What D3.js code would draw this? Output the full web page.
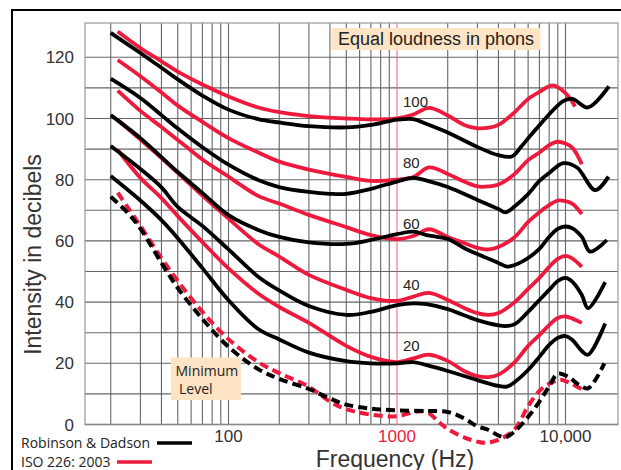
<!DOCTYPE html>
<html>
<head>
<meta charset="utf-8">
<script src="https://cdn.jsdelivr.net/npm/d3@7"></script>
<style>
  html, body { margin: 0; padding: 0; background: #fff; }
  svg { display: block; }
</style>
</head>
<body>
<svg id="chart" width="621" height="470"></svg>
<script>
// Equal-loudness contours: Robinson & Dadson (black) vs ISO 226:2003 (red).
// Each contour is a list of [frequency in Hz, sound level in dB].

const phonLevels = [100, 80, 60, 40, 20];

const rd100 = [[20,128],[30,121.4],[40,116.6],[50,112.8],[70,107.5],[100,102.9],[150,99.8],[200,98.7],[300,97.5],[500,97.1],[700,97.9],[1000,99.6],[1250,99.8],[1500,98.2],[2000,95.4],[3000,90.7],[4000,88],[4800,87.6],[5500,91],[6600,96.2],[9700,105.7],[11000,106.4],[13600,103.6],[18100,110.5]];
const rd80 = [[20,113],[30,106.7],[40,101.1],[50,96.7],[70,90.6],[100,84.9],[150,79.9],[200,77.6],[300,76],[400,75.4],[500,75.4],[700,77],[1000,79.4],[1250,80.6],[1500,79.7],[2000,77.6],[3000,73.4],[4000,70.4],[4400,69.3],[5000,71.3],[6000,75.3],[7000,79.6],[8000,82.2],[9700,85.4],[11700,84],[15000,76.6],[18000,81]];
const rd60 = [[20,101.1],[30,93.6],[40,87.4],[50,82.5],[70,75.7],[100,68.4],[150,63.6],[200,61.3],[300,59.5],[500,59],[700,60.3],[1000,62.2],[1250,63],[1500,61.9],[2000,60.6],[2500,57.7],[3000,55.7],[4000,52.8],[4500,51.6],[5000,52.1],[6000,54.4],[7000,57.4],[8000,61.3],[9000,63.9],[10000,64.7],[11000,64.1],[12500,61.3],[14000,56.5],[17600,60.3]];
const rd40 = [[20,91],[30,83.5],[40,77.5],[50,71.1],[70,64.9],[100,57.2],[150,48.3],[200,43.8],[300,38.7],[500,35.8],[700,36.8],[1000,39],[1250,39.6],[1500,39.3],[2000,37.7],[3000,34.1],[4000,32.4],[4500,32.2],[5000,32.8],[6000,36.8],[7000,40.7],[8000,44],[9000,46.9],[10000,47.9],[11000,46.6],[12500,42.3],[13600,38],[17200,46.5]];
const rd20 = [[20,81.2],[30,73.2],[40,66.8],[50,60.9],[70,51.1],[100,40.6],[150,31.2],[200,27.8],[300,23.5],[500,20.7],[700,20],[1000,20],[1250,20.4],[1500,19.4],[2000,17.5],[3000,14.5],[4000,12.6],[4500,12.4],[5000,13.9],[6000,17.8],[7000,22.1],[8000,26],[9000,28.3],[10000,28.9],[11000,27.6],[12500,24],[13600,22.8],[17200,33]];
const rdThreshold = [[20,74.4],[25,69.4],[30,64],[40,52.8],[50,44.6],[70,34.5],[100,25.4],[150,18.1],[200,14.9],[300,11.6],[400,8.5],[500,6.5],[700,5.2],[1000,4.6],[1500,4.4],[2000,4.1],[2500,2],[3000,-0.6],[3500,-1.8],[4000,-3.6],[4400,-4.2],[5000,-2.2],[6000,2.5],[7000,7.5],[8000,12.5],[9000,16.6],[10400,15.6],[12000,13],[13600,11.8],[17000,20]];

const iso100 = [[22,128.4],[30,123],[40,118.7],[50,115.3],[70,111.1],[100,107.2],[150,103.6],[200,102.1],[300,100.8],[500,100],[700,99.7],[1000,100],[1250,101.3],[1550,103.5],[2000,101],[2500,97.9],[3000,96.8],[3500,97],[4000,97.9],[5000,102.1],[6000,106.4],[7000,108.7],[8400,110.8],[10000,108.3],[11400,103.9]];
const iso80 = [[22,119.1],[30,113.8],[40,108.5],[50,104.2],[70,98.9],[100,93.6],[150,88.9],[200,85.9],[300,83.3],[500,80.9],[700,79.6],[1000,80],[1250,80.9],[1550,84],[2000,81.9],[2500,79.4],[3000,77.8],[3500,77.8],[4000,78.4],[5000,81.9],[6000,86.4],[7000,88.9],[8000,91.3],[9000,92.4],[10000,91.8],[11000,90.4],[12500,85.1]];
const iso60 = [[22,109.1],[30,102.5],[40,97.2],[50,93],[70,86.6],[100,81],[150,74.7],[200,72.2],[300,68.5],[500,64.5],[700,61.9],[1000,60.6],[1250,61.6],[1550,63.8],[2000,61.3],[2500,59.3],[3000,57.7],[3500,57.2],[4000,58],[5000,61.3],[6000,66.2],[7000,69.4],[8000,71.7],[9000,73.2],[10000,73],[11000,72.1],[12500,68.8]];
const iso40 = [[22,99.5],[30,93.1],[40,87.1],[50,82.2],[70,74.8],[100,67.3],[150,59],[200,54.9],[300,48.9],[500,44],[700,41.3],[1000,40.4],[1250,41.8],[1550,43],[2000,40.7],[2500,38.1],[3000,36.4],[3500,35.8],[4000,36.4],[5000,40],[6000,44.3],[7000,47.9],[8000,51.5],[9000,54.1],[10000,55.1],[11000,54.2],[12500,51.5]];
const iso20 = [[22,89.7],[30,80.6],[40,74],[50,68.1],[70,59.6],[100,51],[150,42.8],[200,38.4],[300,33.2],[500,25.7],[700,22.1],[1000,20.4],[1250,21.6],[1550,22.8],[2000,20.8],[2500,17.5],[3000,15.8],[3500,15.5],[4000,16.3],[5000,20.4],[6000,25.7],[7000,29.2],[8000,32.5],[9000,34.8],[10000,35.3],[11000,34.6],[12500,33.2]];
const isoThreshold = [[22,75.8],[25,71.3],[30,64.9],[40,54.4],[50,46.9],[70,36.8],[100,27.9],[150,20.4],[200,16.8],[300,12.3],[400,7.5],[500,5],[700,3.2],[1000,2.7],[1300,4.2],[1500,4.1],[1800,0.5],[2000,-1.5],[2500,-4.2],[3000,-5.6],[3300,-6],[4000,-5],[5000,-1.5],[6000,6],[7000,11],[8000,13.3],[9300,14.6],[10000,14.2],[11000,13.2],[12500,11.5]];

const rdContours = [rd100, rd80, rd60, rd40, rd20];
const isoContours = [iso100, iso80, iso60, iso40, iso20];

const yTicks = [0, 20, 40, 60, 80, 100, 120];
const yGrid = [10, 20, 30, 40, 50, 60, 70, 80, 90, 100, 110, 120];
const xTickValues = [100, 1000, 10000];
const xTickLabels = ["100", "1000", "10,000"];
const xGrid = [20,30,40,50,60,70,80,90,100,200,300,400,500,600,700,800,900,2000,3000,4000,5000,6000,7000,8000,9000,10000];

const legendNames = ["Robinson & Dadson", "ISO 226: 2003"];

// ---- drawing ----
const RED = "#ed1a3d";
const svg = d3.select("#chart");

const x = d3.scaleLog().domain([100, 10000]).range([228.5, 565.5]);
const y = d3.scaleLinear().domain([0, 120]).range([424.5, 57.3]);

const plotLeft = 85, plotRight = 618, plotTop = 23, plotBottom = 424.5;

// outer frame
svg.append("rect")
  .attr("x", 12).attr("y", 10).attr("width", 700).attr("height", 520)
  .attr("fill", "#fff").attr("stroke", "#000").attr("stroke-width", 2);

// grid
const grid = svg.append("g").attr("stroke", "#666").attr("stroke-width", 1.1);
grid.selectAll("line.v").data(xGrid).join("line")
  .attr("x1", d => x(d)).attr("x2", d => x(d))
  .attr("y1", plotTop).attr("y2", plotBottom);
grid.selectAll("line.h").data(yGrid).join("line")
  .attr("x1", plotLeft).attr("x2", plotRight)
  .attr("y1", d => y(d)).attr("y2", d => y(d));

// plot border
svg.append("rect")
  .attr("x", plotLeft).attr("y", plotTop).attr("width", plotRight - plotLeft).attr("height", plotBottom - plotTop)
  .attr("fill", "none").attr("stroke", "#999").attr("stroke-width", 1.2);
svg.append("line")
  .attr("x1", plotLeft).attr("x2", plotRight).attr("y1", plotBottom).attr("y2", plotBottom)
  .attr("stroke", "#888").attr("stroke-width", 1.4);

// reference line at 1 kHz
svg.append("line")
  .attr("x1", x(1000)).attr("x2", x(1000)).attr("y1", plotTop).attr("y2", plotBottom)
  .attr("stroke", "#f2607a").attr("stroke-width", 1);

// annotation boxes
const box = svg.append("g");
box.append("rect").attr("x", 331.5).attr("y", 28).attr("width", 209).attr("height", 22).attr("fill", "#fde4c4");
box.append("text").attr("x", 436).attr("y", 44.5).attr("text-anchor", "middle")
  .attr("font-family", "'Liberation Sans', Arial, sans-serif").attr("font-size", 18).attr("fill", "#222")
  .text("Equal loudness in phons");
box.append("rect").attr("x", 171).attr("y", 357.5).attr("width", 70).attr("height", 42.5).attr("fill", "#fde4c4");
box.append("text").attr("x", 175.5).attr("y", 375.7)
  .attr("font-family", "'Open Sans', sans-serif").attr("font-size", 14).attr("fill", "#222").text("Minimum");
box.append("text").attr("x", 179).attr("y", 394.3)
  .attr("font-family", "'Open Sans', sans-serif").attr("font-size", 14).attr("fill", "#222").text("Level");

// contours
const line = d3.line()
  .x(d => x(d[0])).y(d => y(d[1]))
  .curve(d3.curveCatmullRom.alpha(0.5));

const curves = svg.append("g").attr("fill", "none").attr("stroke-linecap", "butt").attr("stroke-linejoin", "round");
curves.selectAll("path.iso").data(isoContours).join("path")
  .attr("d", line).attr("stroke", RED).attr("stroke-width", 3.8);
curves.append("path").datum(isoThreshold)
  .attr("d", line).attr("stroke", RED).attr("stroke-width", 4).attr("stroke-dasharray", "9,5");
curves.selectAll("path.rd").data(rdContours).join("path")
  .attr("d", line).attr("stroke", "#000").attr("stroke-width", 3.8);
curves.append("path").datum(rdThreshold)
  .attr("d", line).attr("stroke", "#000").attr("stroke-width", 4).attr("stroke-dasharray", "9,5");

// phon labels
svg.append("g").selectAll("text").data(phonLevels).join("text")
  .attr("x", x(1000) + 6).attr("y", d => y(d) - 12)
  .attr("font-family", "'Liberation Sans', Arial, sans-serif").attr("font-size", 15).attr("fill", "#222")
  .text(d => d);

// y axis ticks
svg.append("g").selectAll("text").data(yTicks).join("text")
  .attr("x", 74).attr("y", d => y(d) + 6).attr("text-anchor", "end")
  .attr("font-family", "'Liberation Sans', Arial, sans-serif").attr("font-size", 17).attr("fill", "#333")
  .text(d => d);

// x axis ticks
svg.append("g").selectAll("text").data(xTickValues).join("text")
  .attr("x", d => x(d)).attr("y", 442).attr("text-anchor", "middle")
  .attr("font-family", "'Liberation Sans', Arial, sans-serif").attr("font-size", 17)
  .attr("fill", d => d === 1000 ? RED : "#333")
  .text((d, i) => xTickLabels[i]);

// axis titles
svg.append("text")
  .attr("transform", "translate(41,254.5) rotate(-90)").attr("text-anchor", "middle")
  .attr("font-family", "'Liberation Sans', Arial, sans-serif").attr("font-size", 23).attr("fill", "#333")
  .text("Intensity in decibels");
svg.append("text")
  .attr("x", 395).attr("y", 466.5).attr("text-anchor", "middle")
  .attr("font-family", "'Liberation Sans', Arial, sans-serif").attr("font-size", 23).attr("fill", "#333")
  .text("Frequency (Hz)");

// legend
const legend = svg.append("g").attr("font-family", "'Open Sans', sans-serif").attr("font-size", 14).attr("fill", "#222");
legend.append("text").attr("x", 21).attr("y", 448).text(legendNames[0]);
legend.append("line").attr("x1", 157).attr("x2", 192).attr("y1", 443).attr("y2", 443)
  .attr("stroke", "#000").attr("stroke-width", 3.5);
legend.append("text").attr("x", 21).attr("y", 466.5).text(legendNames[1]);
legend.append("line").attr("x1", 117).attr("x2", 152).attr("y1", 462).attr("y2", 462)
  .attr("stroke", RED).attr("stroke-width", 3.5);
</script>
</body>
</html>
